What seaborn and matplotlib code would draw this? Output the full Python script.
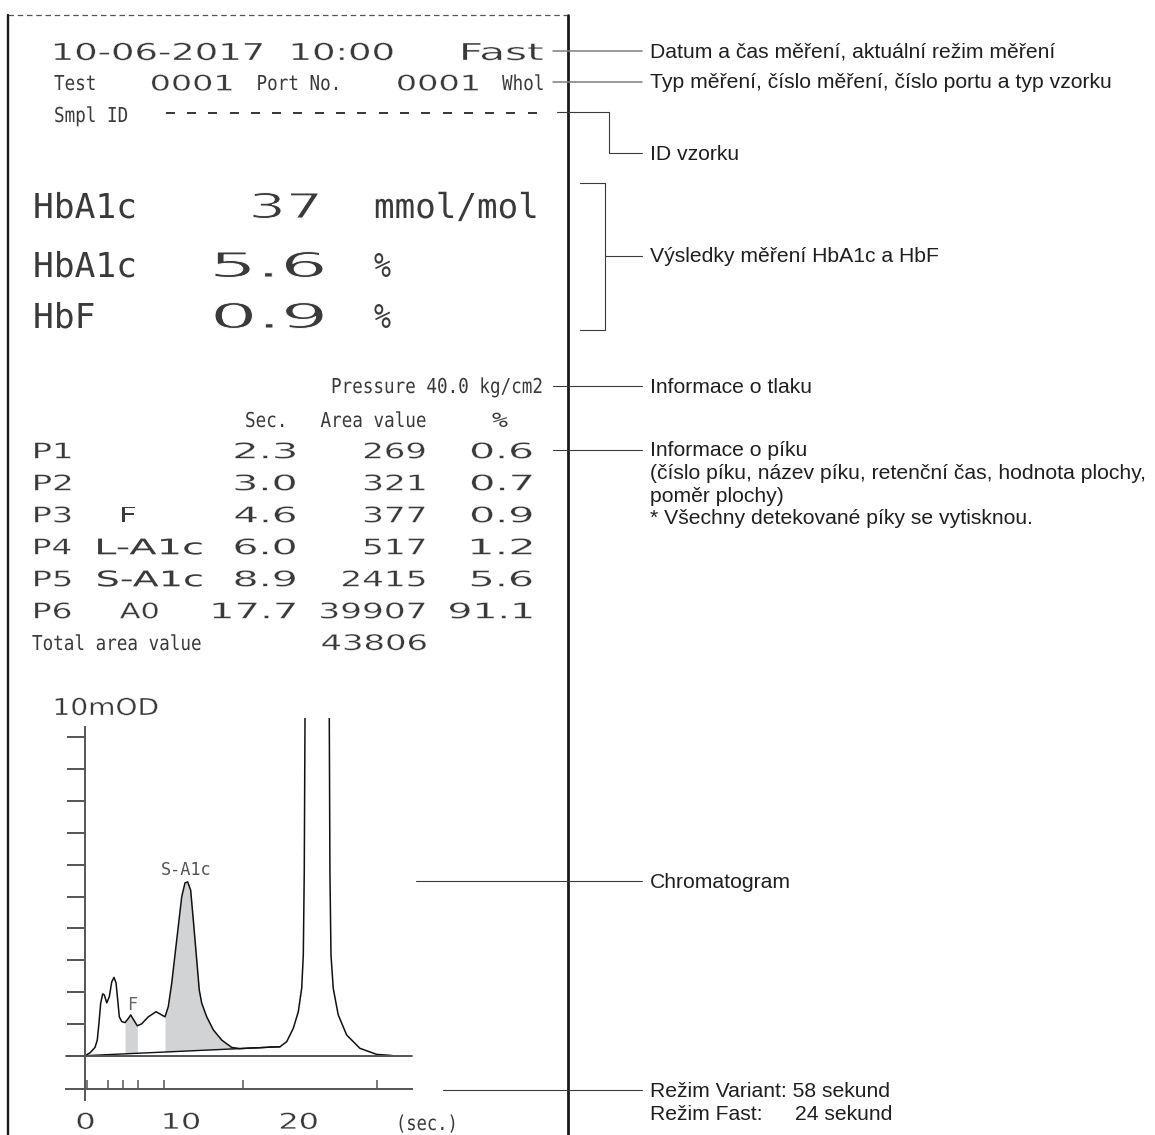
import numpy as np
import pandas as pd
import matplotlib
matplotlib.use("Agg")
import matplotlib.pyplot as plt
import matplotlib.patheffects as pe
from matplotlib.transforms import Affine2D
import seaborn as sns

## Printout values
print_date = "10-06-2017"
print_time = "10:00"
print_mode = "Fast"
test_no = "0001"
port_no = "0001"
sample_type = "Whol"
sample_id = "------------------"
hba1c_mmol = 37
hba1c_pct = 5.6
hbf_pct = 0.9
pressure = 40.0

peak_ids = ["P1", "P2", "P3", "P4", "P5", "P6"]
peak_names = ["", "", "F", "L-A1c", "S-A1c", "A0"]
peak_sec = [2.3, 3.0, 4.6, 6.0, 8.9, 17.7]
peak_area = [269, 321, 377, 517, 2415, 39907]
peak_pct = [0.6, 0.7, 0.9, 1.2, 5.6, 91.1]
total_area = 43806

## Chromatogram trace (seconds, signal in axis ticks; A0 apex is off scale)
chrom_time = [0.00, 0.47, 0.94, 1.15, 1.31, 1.47, 1.66, 1.81, 2.04, 2.28, 2.51, 2.72,
              2.91, 3.07, 3.22, 3.45, 3.76, 4.07, 4.29, 4.54, 4.91, 5.32, 5.94, 6.67,
              7.04, 7.51, 7.82, 8.14, 8.61, 9.08, 9.39, 9.64, 9.92, 10.17, 10.49, 10.73,
              10.96, 11.43, 12.05, 12.84, 13.77, 14.55, 15.49, 16.43, 17.37, 18.31, 18.94,
              19.56, 20.03, 20.35, 20.50, 20.59, 20.66, 21.78, 22.94, 23.00, 23.10, 23.31,
              23.78, 24.57, 25.82, 27.39, 28.64, 28.88]
chrom_signal = [0.00, 0.09, 0.26, 0.49, 1.02, 1.65, 1.94, 1.91, 1.66, 1.85, 2.32, 2.46,
                2.29, 1.75, 1.22, 1.07, 1.04, 1.17, 1.28, 1.14, 0.94, 1.00, 1.22, 1.38,
                1.31, 1.22, 1.54, 2.27, 3.63, 4.99, 5.43, 5.46, 5.20, 4.26, 3.01, 2.06,
                1.65, 1.22, 0.81, 0.49, 0.26, 0.22, 0.24, 0.25, 0.27, 0.28, 0.44,
                0.86, 1.38, 2.12, 3.16, 5.78, 10.60, 40.0, 10.60, 5.78, 3.16, 2.12,
                1.28, 0.65, 0.23, 0.04, 0.01, 0.00]
drop_time = [0.0, 18.31]
drop_signal = [0.0, 0.28]
f_window = (3.66, 4.91)
sa1c_window = (7.51, 14.55)
time_marks = [0.16, 2.19, 3.60, 4.95, 7.45, 14.86, 27.38]
time_label_pos = [0.05, 9.04, 20.08]
time_labels = ["0", "10", "20"]

notes = ["Datum a čas měření, aktuální režim měření",
         "Typ měření, číslo měření, číslo portu a typ vzorku",
         "ID vzorku",
         "Výsledky měření HbA1c a HbF",
         "Informace o tlaku",
         "Informace o píku",
         "(číslo píku, název píku, retenční čas, hodnota plochy,",
         "poměr plochy)",
         "* Všechny detekované píky se vytisknou.",
         "Chromatogram",
         "Režim Variant: 58 sekund",
         "Režim Fast:"]
fast_time = "24 sekund"


class Stretch(pe.AbstractPathEffect):
    # scale glyphs horizontally by sx, or fit their ink into x0..x1 (pixels)
    def __init__(self, sx=1.0, anchor="origin", fit=None, thin=0.0):
        super().__init__()
        self.sx = sx
        self.anchor = anchor
        self.fit = fit
        self.thin = thin

    def draw_path(self, renderer, gc, tpath, affine, rgbFace=None):
        ext = tpath.get_extents(affine)
        if self.fit is not None:
            x0, x1 = self.fit
            tr = affine + Affine2D().translate(-ext.x0, 0).scale(
                (x1 - x0) / ext.width, 1).translate(x0, 0)
        else:
            if self.anchor == "origin":
                cx = affine.transform((0, 0))[0]
            else:
                cx = 0.5 * (ext.x0 + ext.x1)
            tr = affine + Affine2D().translate(-cx, 0).scale(self.sx, 1).translate(cx, 0)
        renderer.draw_path(gc, tpath, tr, rgbFace)
        if self.thin > 0:
            gc2 = renderer.new_gc()
            gc2.copy_properties(gc)
            gc2.set_linewidth(self.thin)
            gc2.set_foreground("white")
            renderer.draw_path(gc2, tpath, tr, None)
            gc2.restore()


sns.set_theme(style="white")
plt.rcParams["font.family"] = ["DejaVu Sans"]
NARROW = "DejaVu Sans Mono"
WIDE = "DejaVu Sans"
INK = "#3a3a3a"

fig = plt.figure(figsize=(11.55, 11.35), dpi=100)
bg = fig.add_axes([0, 0, 1, 1])
bg.set_xlim(0, 1155)
bg.set_ylim(1135, 0)
bg.axis("off")


def narrow(x, y, s, size, pitch, color=INK):
    em = size / 72 * 100
    bg.text(x, y, s, fontsize=size, family=NARROW, color=color, ha="left", va="baseline",
            path_effects=[Stretch(pitch / (0.6021 * em))])


def wide(x0, x1, y, s, cap, thin=0.25, color=INK):
    bg.text(x0, y, s, fontsize=cap / 0.729 * 0.72, family=WIDE, color=color, ha="left",
            va="baseline", path_effects=[Stretch(fit=(x0, x1), thin=thin)])


# paper outline
bg.plot([8, 567], [15, 15], color="#555", lw=0.9, ls=(0, (4.4, 3.0)))
bg.plot([8, 8], [15, 1135], color="#1a1a1a", lw=1.7)
bg.plot([568, 568], [15, 1135], color="#1a1a1a", lw=2.0)

# header
wide(54.8, 262, 60, print_date, 17)
wide(292.6, 392.6, 60, print_time, 17)
wide(463, 542.6, 60, print_mode, 17)
narrow(54, 90, "Test", 14.8, 10.6)
wide(151.9, 231.5, 90.5, test_no, 15.7)
narrow(256.5, 90, "Port No.", 14.8, 10.6)
wide(398, 478, 90.5, port_no, 15.7)
narrow(502, 90, sample_type, 14.8, 10.6)
narrow(54, 122, "Smpl ID", 14.8, 10.6)
narrow(159.5, 119, sample_id, 15.5, 21.3)

# results
narrow(33, 218, "HbA1c", 24.7, 20.8)
wide(253, 318, 218, f"{hba1c_mmol}", 25, thin=0.7)
narrow(374, 218, "mmol/mol", 24.7, 20.6)
narrow(33, 277, "HbA1c", 24.7, 20.8)
wide(215, 323, 277, f"{hba1c_pct:.1f}", 25, thin=0.7)
narrow(374, 277, "%", 24.7, 17)
narrow(33, 328, "HbF", 24.7, 20.8)
wide(215, 323, 328, f"{hbf_pct:.1f}", 25, thin=0.7)
narrow(374, 328, "%", 24.7, 17)

# peak table
narrow(331, 393, f"Pressure {pressure:.1f} kg/cm2", 14.8, 10.6)
narrow(245, 427, "Sec.", 14.8, 10.6)
narrow(320.5, 427, "Area value", 14.8, 10.6)
narrow(492, 427, "%", 14.8, 16)
P = 21.9
for i, pid in enumerate(peak_ids):
    y = 458.3 + 32 * i
    wide(35, 70.4, y, pid, 15.7)
    nm = peak_names[i]
    if len(nm) == 1:
        wide(122.2, 135.2, y, nm, 15.7, thin=0.0)
    elif nm:
        x0 = 98.1 + (P if len(nm) < 3 else 0)
        wide(x0, x0 + len(nm) * P - 6, y, nm, 15.7, thin=0.0 if "-" in nm else 0.25)
    for txt, right in ((f"{peak_sec[i]:.1f}", 295), (f"{peak_area[i]}", 424.5),
                       (f"{peak_pct[i]:.1f}", 531.5)):
        wide(right - len(txt) * P + 6, right, y, txt, 15.7)
narrow(32, 650, "Total area value", 14.8, 10.6)
wide(322.2, 425.9, 650, f"{total_area}", 15.7)
wide(55.6, 157.4, 715, "10mOD", 17)
narrow(396, 1130, "(sec.)", 14.8, 10.3)

# callouts
g = "#7d7d7d"
d = "#3a3a3a"
bg.plot([553, 641.7], [50.7, 50.7], color=g, lw=1.1)
bg.plot([553, 641.7], [81.7, 81.7], color=g, lw=1.1)
bg.plot([556.7, 609.3, 609.3, 641.7], [111.7, 111.7, 153.3, 153.3], color=d, lw=0.8)
bg.plot([580, 605, 605, 580], [183, 183, 330, 330], color=d, lw=0.8)
bg.plot([605, 641.7], [256, 256], color=d, lw=0.8)
bg.plot([553, 641.7], [386, 386], color=d, lw=0.8)
bg.plot([553, 641.7], [450, 450], color=d, lw=0.8)
bg.plot([416, 641.7], [881, 881], color=d, lw=0.8)
bg.plot([443, 641.7], [1090, 1090], color=d, lw=0.8)

note_y = [57.5, 88.5, 160, 262, 393, 456.5, 479, 501.5, 524, 888, 1097, 1119.5]
for txt, y in zip(notes, note_y):
    bg.text(650, y, txt, fontsize=15.2, family="Liberation Sans", color="#1f1f1f",
            ha="left", va="baseline")
bg.text(795, 1119.5, fast_time, fontsize=15.2, family="Liberation Sans", color="#1f1f1f",
        ha="left", va="baseline")

# chromatogram
ax = fig.add_axes([60 / 1155, 30 / 1135, 355 / 1155, 386.7 / 1135])
ax.patch.set_alpha(0)
t = np.array(chrom_time)
s = np.array(chrom_signal)
for lo, hi in (f_window, sa1c_window):
    m = (t >= lo) & (t <= hi)
    ax.fill_between(t[m], np.interp(t[m], drop_time, drop_signal), s[m],
                    color="#d2d3d5", lw=0)
df = pd.DataFrame({"time": chrom_time, "signal": chrom_signal})
sns.lineplot(data=df, x="time", y="signal", ax=ax, color="#111111", lw=1.1,
             sort=False, estimator=None)
sns.lineplot(x=drop_time, y=drop_signal, ax=ax, color="#111111", lw=1.0, estimator=None)
ax.plot([-1.78, 30.68], [0, 0], color="#555", lw=1.4)
ax.set(xlabel="", ylabel="")
ax.set_xlim(-2.35, 30.99)
ax.set_ylim(-1.55, 10.6)

for side in ("top", "right"):
    ax.spines[side].set_visible(False)
ax.spines["left"].set_position(("data", 0))
ax.spines["left"].set_bounds(-1.39, 10.33)
ax.spines["bottom"].set_position(("data", -1.055))
ax.spines["bottom"].set_bounds(-1.78, 30.68)
for sp in ("left", "bottom"):
    ax.spines[sp].set_color("#555")
    ax.spines[sp].set_linewidth(1.4)

ax.set_yticks(range(0, 11))
ax.set_yticklabels([])
ax.tick_params(axis="y", left=True, direction="out", length=13.2, width=1.4, color="#555")
ax.set_xticks(time_marks, minor=True)
ax.set_xticks(time_label_pos)
ax.set_xticklabels(time_labels, fontfamily=WIDE, fontsize=15.8, color=INK,
                   path_effects=[Stretch(1.45, "center", thin=0.25)])
ax.tick_params(axis="x", which="minor", bottom=True, direction="in", length=6.5,
               width=1.1, color="#555")
ax.tick_params(axis="x", which="major", bottom=True, length=0, pad=17.0)

ax.text(4.39, 1.44, "F", fontsize=12.2, family=NARROW, color="#666", ha="center",
        va="baseline")
ax.text(9.48, 5.68, "S-A1c", fontsize=12.2, family=NARROW, color="#555", ha="center",
        va="baseline")

plt.savefig("out.png", dpi=100)
